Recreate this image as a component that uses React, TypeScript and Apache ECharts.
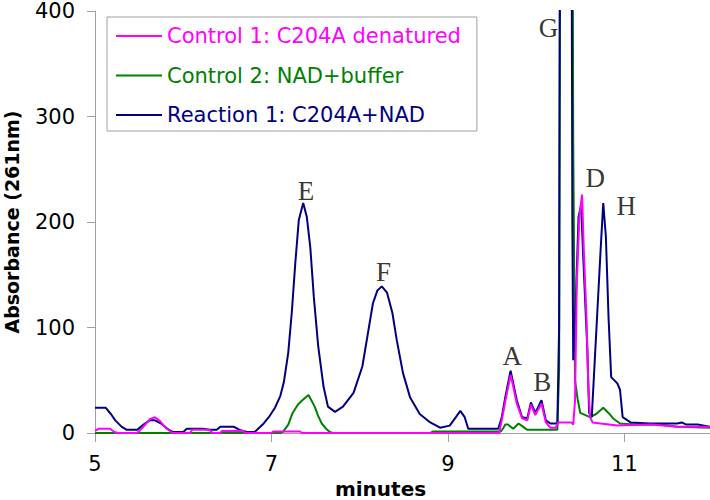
import React, { useEffect, useRef } from "react";
import * as echarts from "echarts";

const seriesNames = ["Control 1: C204A denatured", "Control 2: NAD+buffer", "Reaction 1: C204A+NAD"];
const seriesColors = ["#ff00ff", "#008000", "#000080"];

// [minutes, absorbance]
const control1 = [
  [5.0, 2], [5.04, 4], [5.17, 4], [5.22, 1], [5.26, 0], [5.48, 0], [5.55, 6], [5.62, 13], [5.68, 15],
  [5.74, 11], [5.8, 5], [5.88, 0], [6.08, 0], [6.1, 3], [6.3, 3], [6.33, 0], [6.42, 0], [6.44, 2],
  [6.68, 2], [6.7, 0], [7.0, 0], [7.02, 1.5], [7.32, 1.5], [7.35, 0], [9.58, 0], [9.61, 12], [9.65, 30],
  [9.71, 55], [9.74, 44], [9.78, 28], [9.84, 14], [9.9, 12], [9.94, 27], [9.99, 17], [10.06, 28],
  [10.11, 10], [10.16, 5], [10.22, 5], [10.25, 10], [10.4, 10], [10.42, 8], [10.44, 30], [10.46, 142],
  [10.49, 205], [10.52, 226], [10.54, 173], [10.57, 110], [10.59, 47], [10.61, 15], [10.64, 10],
  [10.73, 9], [10.92, 7], [11.3, 8], [11.6, 6], [11.97, 6],
];

const control2 = [
  [5.0, 0], [7.1, 0], [7.13, 1], [7.19, 8], [7.24, 19], [7.3, 27], [7.35, 31], [7.42, 36], [7.49, 25],
  [7.53, 16], [7.57, 9], [7.62, 4], [7.66, 1], [7.7, 0], [8.8, 0], [8.83, 1.5], [9.6, 1.5], [9.63, 5],
  [9.65, 8], [9.68, 8], [9.74, 4], [9.8, 9], [9.85, 6], [9.9, 3], [10.24, 3], [10.26, 60], [10.28, 900],
  [10.4, 900], [10.42, 275], [10.44, 50], [10.47, 32], [10.5, 19], [10.61, 15], [10.68, 18],
  [10.76, 24], [10.82, 19], [10.87, 14], [10.95, 9], [11.1, 8], [11.4, 8], [11.6, 6], [11.97, 5],
];

const reaction1 = [
  [5.0, 24], [5.12, 24], [5.18, 18], [5.23, 12], [5.3, 6], [5.36, 3], [5.48, 3], [5.55, 8], [5.62, 12],
  [5.68, 12], [5.75, 9], [5.82, 4], [5.88, 1], [6.0, 1], [6.04, 4], [6.22, 4], [6.3, 3], [6.38, 3],
  [6.42, 6], [6.57, 6], [6.64, 3], [6.72, 1], [6.81, 1], [6.9, 8], [6.97, 15], [7.04, 24], [7.1, 35],
  [7.14, 48], [7.19, 76], [7.23, 114], [7.27, 161], [7.31, 202], [7.36, 218], [7.4, 205], [7.44, 176],
  [7.48, 129], [7.53, 82], [7.59, 44], [7.64, 25], [7.72, 20], [7.81, 25], [7.93, 38], [8.03, 63],
  [8.1, 98], [8.15, 123], [8.2, 135], [8.25, 139], [8.31, 133], [8.37, 114], [8.42, 88], [8.49, 57],
  [8.57, 34], [8.68, 18], [8.8, 10], [8.91, 5], [9.02, 7], [9.09, 15], [9.14, 21], [9.19, 15], [9.23, 4],
  [9.57, 4], [9.61, 15], [9.65, 34], [9.71, 59], [9.74, 47], [9.78, 31], [9.84, 15], [9.9, 14],
  [9.94, 29], [9.99, 19], [10.06, 31], [10.11, 12], [10.16, 9], [10.24, 9], [10.26, 100], [10.28, 900],
  [10.39, 900], [10.41, 200], [10.42, 69], [10.45, 126], [10.48, 205], [10.51, 216], [10.53, 173],
  [10.58, 79], [10.6, 19], [10.63, 15], [10.69, 110], [10.73, 173], [10.76, 218], [10.79, 186],
  [10.82, 110], [10.85, 53], [10.92, 47], [10.95, 41], [10.98, 15], [11.07, 10], [11.29, 9], [11.6, 9],
  [11.65, 10], [11.7, 8], [11.83, 8], [11.97, 6],
];

const xTickValues = [5, 7, 9, 11];

// peak letters: [minutes, absorbance, letter]
const peakLabels = [
  [7.39, 229, "E"], [8.27, 153, "F"], [9.73, 73, "A"], [10.07, 48, "B"],
  [10.14, 384, "G"], [10.67, 242, "D"], [11.02, 215, "H"],
];

const FONT = "DejaVu Sans";
const AXIS_GRAY = "#a0a0a0";

export default function App() {
  const ref = useRef<HTMLDivElement>(null);
  useEffect(() => {
    if (!ref.current) return;
    document.body.style.margin = "0";
    const chart = echarts.init(ref.current, undefined, { renderer: "svg" });
    const dataSets = [control1, control2, reaction1];
    const drawOrder = [1, 2, 0];
    chart.setOption({
      animation: false,
      backgroundColor: "#fff",
      grid: { left: 95, right: 0, top: 11, bottom: 67, containLabel: false, outerBoundsMode: "none" },
      legend: {
        left: 107,
        top: 17,
        orient: "vertical",
        icon: "rect",
        itemWidth: 46,
        itemHeight: 2,
        itemGap: 15.5,
        padding: [7, 16, 4, 9],
        borderColor: AXIS_GRAY,
        borderWidth: 1,
        backgroundColor: "#fff",
        selectedMode: false,
        textStyle: { fontSize: 21, fontFamily: FONT, lineHeight: 24 },
        data: seriesNames.map((n, i) => ({ name: n, textStyle: { color: seriesColors[i] } })),
      },
      xAxis: {
        type: "value",
        min: 5,
        max: 11.97,
        name: "minutes",
        nameLocation: "middle",
        nameGap: 46,
        nameTextStyle: { fontFamily: FONT, fontWeight: "bold", fontSize: 20, color: "#000", padding: [0, 44, 0, 0] },
        axisLine: { show: true, onZero: false, lineStyle: { color: AXIS_GRAY, width: 1 } },
        axisTick: { show: true, length: 9, customValues: xTickValues, lineStyle: { color: AXIS_GRAY } },
        axisLabel: { customValues: xTickValues, fontSize: 21, fontFamily: FONT, color: "#000", margin: 20 },
        splitLine: { show: false },
      },
      yAxis: {
        type: "value",
        min: 0,
        max: 400,
        interval: 100,
        name: "Absorbance (261nm)",
        nameLocation: "middle",
        nameGap: 74,
        nameTextStyle: { fontFamily: FONT, fontWeight: "bold", fontSize: 19, color: "#000" },
        axisLine: { show: true, lineStyle: { color: AXIS_GRAY, width: 1 } },
        axisTick: { show: true, length: 8, lineStyle: { color: AXIS_GRAY } },
        axisLabel: { fontSize: 21, fontFamily: FONT, color: "#000", margin: 20 },
        splitLine: { show: false },
      },
      series: [
        ...drawOrder.map((i) => ({
          name: seriesNames[i],
          type: "line",
          data: dataSets[i],
          showSymbol: false,
          symbol: "none",
          clip: true,
          color: seriesColors[i],
          lineStyle: { color: seriesColors[i], width: 2 },
          emphasis: { disabled: true },
        })),
        {
          name: "peaks",
          type: "scatter",
          data: peakLabels,
          symbolSize: 0,
          silent: true,
          label: {
            show: true,
            position: "inside",
            formatter: (p: any) => p.value[2],
            fontFamily: "Liberation Serif",
            fontSize: 27,
            color: "#000",
          },
        },
      ],
    });
    return () => chart.dispose();
  }, []);
  return <div ref={ref} style={{ width: 710, height: 500 }} />;
}
